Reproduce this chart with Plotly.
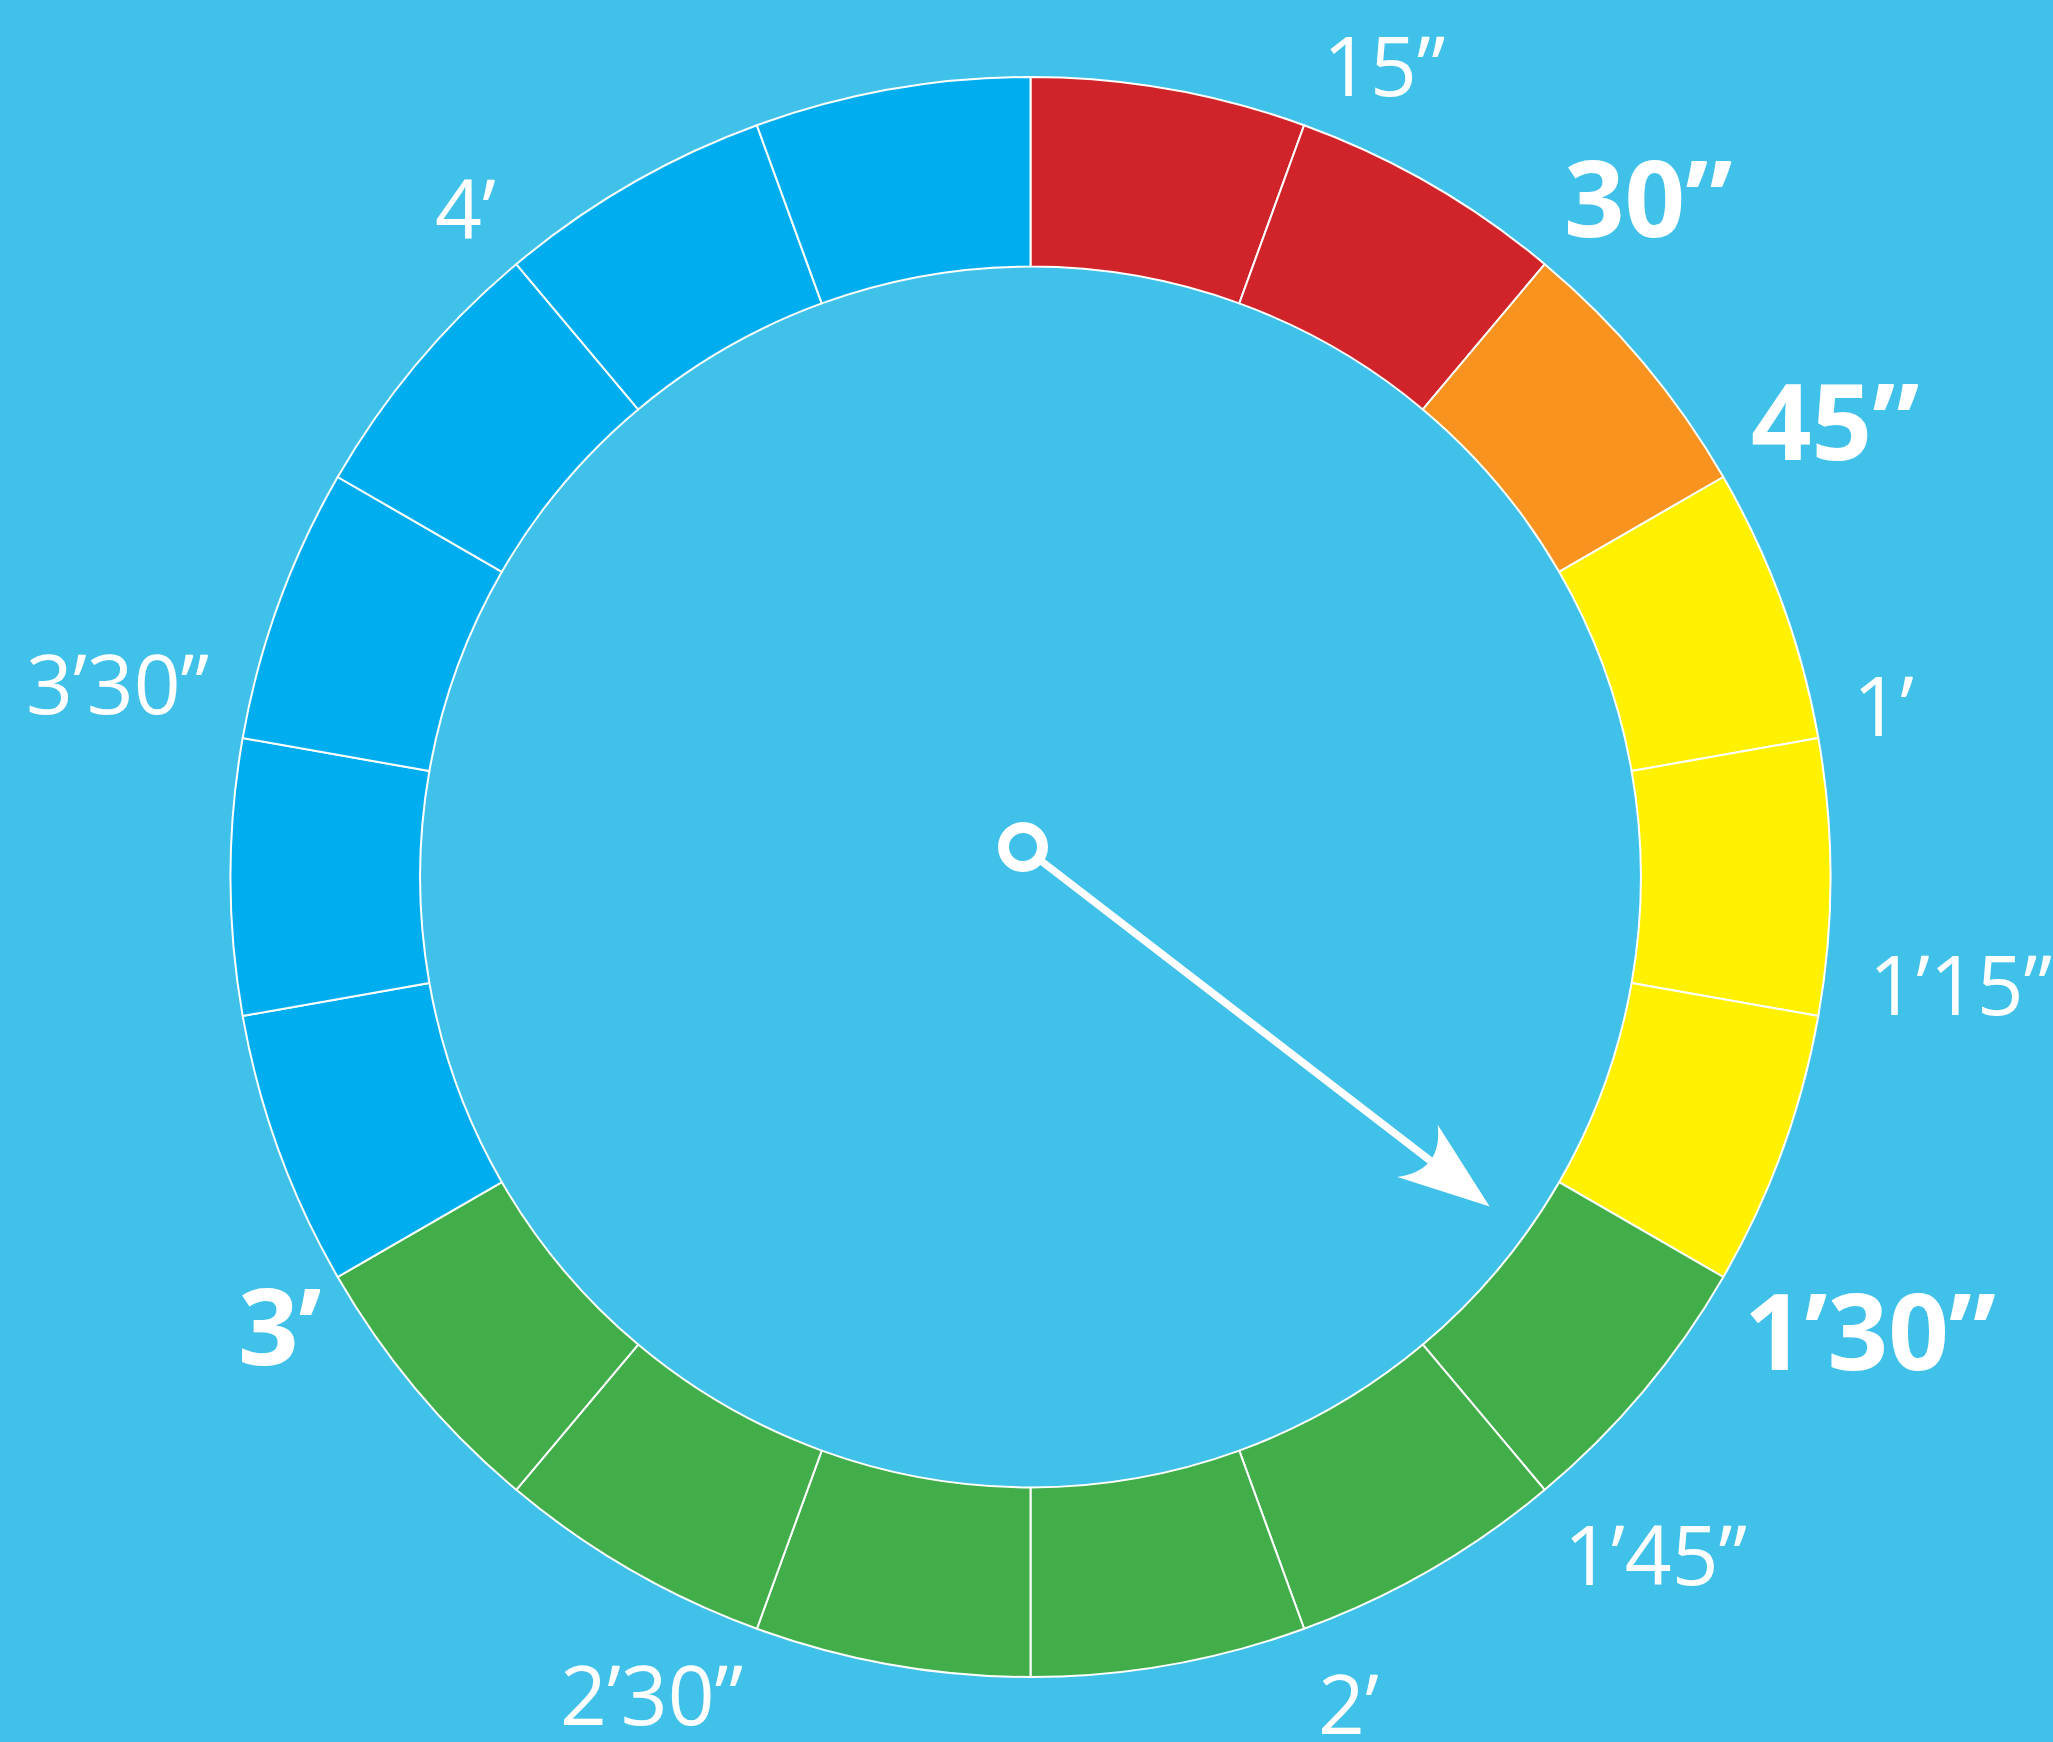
import math
import plotly.graph_objects as go

# ---------------- data ----------------
segment_seconds = [15, 15, 15, 15, 15, 15, 15, 15, 15, 15, 15, 15, 15, 15, 15, 15, 15, 15]
segment_zone = ["red", "red", "orange", "yellow", "yellow", "yellow",
                "green", "green", "green", "green", "green", "green",
                "blue", "blue", "blue", "blue", "blue", "blue"]
tick_labels = ["15”", "30”", "45”", "1’", "1’15”", "1’30”", "1’45”", "2’", "2’30”", "3’", "3’30”", "4’"]
tick_bold = [False, True, True, False, False, True, False, False, False, True, False, False]
needle_seconds = 95.7

# ---------------- styles / layout ----------------
W, H = 2053, 1742
BG = "#40C1E9"
zone_colors = {"red": "#D1232A", "orange": "#F7931E", "yellow": "#FFF100",
               "green": "#41AE4A", "blue": "#00AEEF"}
# label centre positions in pixel space
label_pos = [(1384, 64), (1648, 196), (1835, 419), (1883, 704), (1960, 983), (1870, 1329),
             (1655, 1553), (1348, 1702), (651, 1693), (280, 1324), (117, 682), (465, 207)]

ring_cx, ring_cy, ring_r = 1030.5, 877, 800
pivot = (1023, 847)
total = sum(segment_seconds)

fig = go.Figure()
fig.add_trace(go.Pie(
    values=segment_seconds,
    sort=False,
    direction="clockwise",
    rotation=0,
    hole=0.763,
    marker=dict(colors=[zone_colors[z] for z in segment_zone], line=dict(color="white", width=2)),
    textinfo="none",
    hoverinfo="skip",
    showlegend=False,
    domain=dict(x=[(ring_cx - ring_r) / W, (ring_cx + ring_r) / W],
                y=[1 - (ring_cy + ring_r) / H, 1 - (ring_cy - ring_r) / H]),
))

# invisible pixel-mapped axes for overlay shapes / labels
fig.add_trace(go.Scatter(x=[0, W], y=[0, H], mode="markers", marker=dict(opacity=0),
                         hoverinfo="skip", showlegend=False))

annotations = []
for lab, bold, (lx, ly) in zip(tick_labels, tick_bold, label_pos):
    annotations.append(dict(
        x=lx, y=ly, xref="x", yref="y", text=lab, showarrow=False,
        xanchor="center", yanchor="middle",
        font=dict(family="Open Sans", size=106 if bold else 82, color="white",
                  weight=700 if bold else 400),
    ))

# needle (angle measured clockwise from 12 o'clock, screen y downward)
ang = math.radians(needle_seconds / total * 360)
ux = math.sin(ang)
uy = -math.cos(ang)
nx, ny = -uy, ux  # perpendicular


def pt(along, perp):
    return (pivot[0] + ux * along + nx * perp, pivot[1] + uy * along + ny * perp)


L = 589
p0 = pt(24, 0)
p1 = pt(520, 0)
tip = pt(L, 0)
b1 = pt(498, 33)
b2 = pt(498, -33)
c = pt(530, 0)
shapes = [
    dict(type="line", xref="x", yref="y", x0=p0[0], y0=p0[1], x1=p1[0], y1=p1[1],
         line=dict(color="white", width=7.5)),
    dict(type="path", xref="x", yref="y",
         path=f"M{tip[0]},{tip[1]} L{b1[0]},{b1[1]} Q{c[0]},{c[1]} {b2[0]},{b2[1]} Z",
         fillcolor="white", line=dict(color="white", width=0)),
    dict(type="circle", xref="x", yref="y", x0=pivot[0] - 19.5, y0=pivot[1] - 19.5,
         x1=pivot[0] + 19.5, y1=pivot[1] + 19.5, fillcolor=BG,
         line=dict(color="white", width=11)),
]

fig.update_layout(
    width=W, height=H,
    margin=dict(l=0, r=0, t=0, b=0),
    paper_bgcolor=BG, plot_bgcolor="rgba(0,0,0,0)",
    xaxis=dict(range=[0, W], visible=False, domain=[0, 1], fixedrange=True),
    yaxis=dict(range=[H, 0], visible=False, domain=[0, 1], fixedrange=True),
    annotations=annotations,
    shapes=shapes,
    showlegend=False,
)

fig.write_html("out.html", config={"displayModeBar": False},
               post_script="document.body.style.margin='0';document.body.style.background='%s';" % BG)
